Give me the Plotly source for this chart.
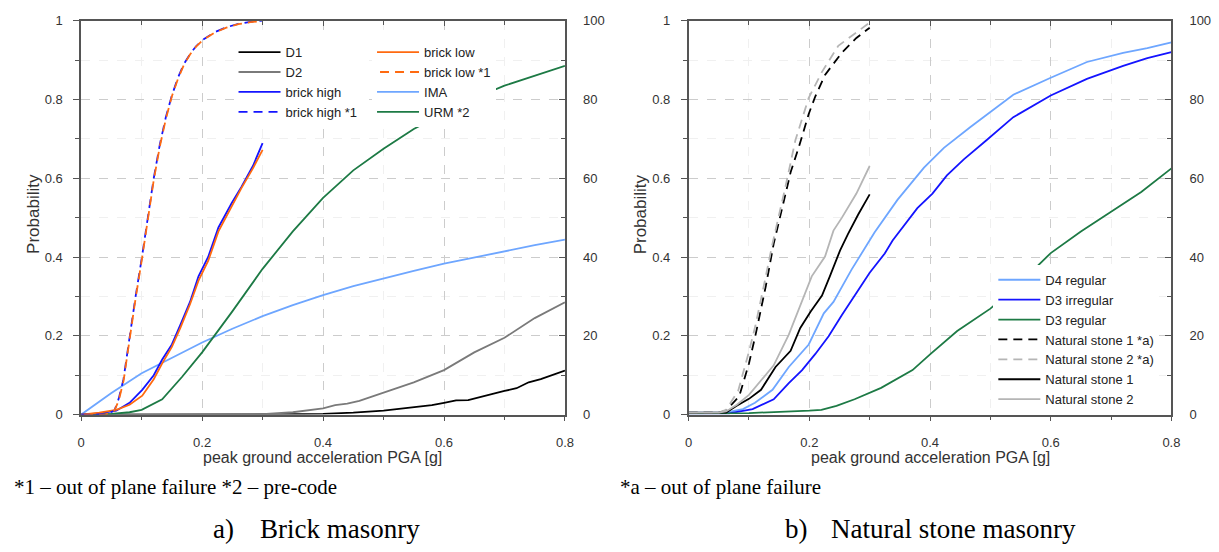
import plotly.graph_objects as go

# ---------------- data: left panel (brick masonry) ----------------
d1_x = [0, 0.1, 0.2, 0.3, 0.35, 0.4, 0.45, 0.5, 0.55, 0.58, 0.6, 0.62, 0.64, 0.66, 0.68, 0.7, 0.72, 0.74, 0.76, 0.78, 0.8]
d1_y = [0, 0, 0, 0, 0.001, 0.002, 0.005, 0.01, 0.018, 0.024, 0.03, 0.036, 0.037, 0.045, 0.052, 0.06, 0.067, 0.082, 0.09, 0.1, 0.112]

d2_x = [0, 0.2, 0.3, 0.35, 0.4, 0.42, 0.44, 0.46, 0.5, 0.55, 0.6, 0.65, 0.7, 0.75, 0.8]
d2_y = [0, 0, 0.001, 0.006, 0.016, 0.024, 0.028, 0.035, 0.055, 0.082, 0.113, 0.158, 0.195, 0.245, 0.285]

bh_x = [0, 0.03, 0.058, 0.08, 0.101, 0.12, 0.134, 0.15, 0.164, 0.18, 0.194, 0.21, 0.227, 0.249, 0.265, 0.284, 0.30]
bh_y = [0, 0.003, 0.01, 0.03, 0.063, 0.1, 0.14, 0.178, 0.228, 0.286, 0.351, 0.40, 0.475, 0.537, 0.578, 0.631, 0.689]

bl_x = [0, 0.03, 0.058, 0.08, 0.101, 0.12, 0.134, 0.15, 0.164, 0.18, 0.194, 0.21, 0.227, 0.249, 0.265, 0.284, 0.30]
bl_y = [0, 0.005, 0.012, 0.025, 0.048, 0.09, 0.13, 0.172, 0.22, 0.28, 0.34, 0.39, 0.465, 0.53, 0.575, 0.625, 0.672]

bh1_x = [0, 0.04, 0.055, 0.062, 0.07, 0.08, 0.09, 0.1, 0.11, 0.12, 0.13, 0.14, 0.15, 0.16, 0.17, 0.18, 0.19, 0.2, 0.22, 0.24, 0.26, 0.28, 0.3]
bh1_y = [0, 0, 0.01, 0.04, 0.09, 0.2, 0.3, 0.395, 0.5, 0.6, 0.685, 0.755, 0.81, 0.855, 0.89, 0.915, 0.935, 0.95, 0.97, 0.983, 0.992, 0.997, 1.0]

bl1_x = [0, 0.04, 0.055, 0.062, 0.07, 0.08, 0.09, 0.1, 0.11, 0.12, 0.13, 0.14, 0.15, 0.16, 0.17, 0.18, 0.19, 0.2, 0.22, 0.24, 0.26, 0.28, 0.3]
bl1_y = [0, 0, 0.01, 0.035, 0.085, 0.195, 0.295, 0.39, 0.495, 0.595, 0.68, 0.75, 0.808, 0.852, 0.888, 0.914, 0.934, 0.949, 0.969, 0.982, 0.991, 0.996, 0.999]

ima_x = [0, 0.05, 0.1, 0.15, 0.2, 0.25, 0.3, 0.35, 0.4, 0.45, 0.5, 0.55, 0.6, 0.65, 0.7, 0.75, 0.8]
ima_y = [0, 0.055, 0.105, 0.145, 0.183, 0.218, 0.25, 0.278, 0.303, 0.326, 0.346, 0.365, 0.383, 0.399, 0.414, 0.43, 0.444]

urm_x = [0, 0.05, 0.08, 0.1, 0.134, 0.167, 0.2, 0.25, 0.3, 0.35, 0.4, 0.45, 0.5, 0.55, 0.6, 0.65, 0.7, 0.75, 0.8]
urm_y = [0, 0.002, 0.006, 0.012, 0.039, 0.096, 0.158, 0.262, 0.37, 0.465, 0.55, 0.62, 0.675, 0.725, 0.765, 0.803, 0.835, 0.86, 0.885]

# ---------------- data: right panel (natural stone masonry) ----------------
d4r_x = [0, 0.06, 0.09, 0.11, 0.139, 0.166, 0.199, 0.224, 0.24, 0.27, 0.308, 0.346, 0.39, 0.423, 0.467, 0.505, 0.538, 0.6, 0.66, 0.72, 0.76, 0.8]
d4r_y = [0.005, 0.005, 0.014, 0.03, 0.063, 0.121, 0.178, 0.257, 0.286, 0.368, 0.462, 0.545, 0.627, 0.677, 0.73, 0.775, 0.812, 0.855, 0.895, 0.918, 0.93, 0.945]

d3i_x = [0, 0.067, 0.106, 0.141, 0.166, 0.188, 0.21, 0.232, 0.254, 0.275, 0.30, 0.325, 0.338, 0.379, 0.404, 0.428, 0.456, 0.494, 0.538, 0.6, 0.66, 0.72, 0.76, 0.8]
d3i_y = [0.003, 0.003, 0.014, 0.039, 0.08, 0.113, 0.154, 0.199, 0.253, 0.302, 0.36, 0.409, 0.442, 0.524, 0.561, 0.607, 0.648, 0.697, 0.755, 0.81, 0.852, 0.885, 0.905, 0.92]

d3r_x = [0, 0.1, 0.2, 0.22, 0.245, 0.275, 0.319, 0.371, 0.401, 0.445, 0.5, 0.55, 0.6, 0.65, 0.7, 0.75, 0.8]
d3r_y = [0.003, 0.004, 0.01, 0.012, 0.022, 0.039, 0.068, 0.113, 0.154, 0.212, 0.269, 0.335, 0.41, 0.465, 0.515, 0.565, 0.625]

ns1a_x = [0, 0.05, 0.062, 0.084, 0.1, 0.111, 0.128, 0.141, 0.155, 0.169, 0.183, 0.199, 0.21, 0.226, 0.254, 0.278, 0.3]
ns1a_y = [0.005, 0.005, 0.01, 0.047, 0.13, 0.203, 0.327, 0.434, 0.524, 0.615, 0.681, 0.763, 0.808, 0.862, 0.919, 0.956, 0.982]

ns2a_x = [0, 0.05, 0.062, 0.082, 0.1, 0.111, 0.125, 0.139, 0.161, 0.177, 0.199, 0.221, 0.248, 0.281, 0.30]
ns2a_y = [0.005, 0.005, 0.012, 0.06, 0.16, 0.228, 0.33, 0.434, 0.582, 0.697, 0.804, 0.87, 0.936, 0.973, 0.995]

ns1_x = [0, 0.05, 0.062, 0.079, 0.1, 0.12, 0.144, 0.169, 0.185, 0.202, 0.221, 0.234, 0.251, 0.264, 0.281, 0.30]
ns1_y = [0.005, 0.005, 0.005, 0.022, 0.04, 0.063, 0.121, 0.162, 0.22, 0.261, 0.302, 0.351, 0.417, 0.458, 0.508, 0.559]

ns2_x = [0, 0.05, 0.062, 0.08, 0.1, 0.114, 0.141, 0.166, 0.188, 0.204, 0.226, 0.24, 0.254, 0.278, 0.30]
ns2_y = [0.005, 0.005, 0.008, 0.025, 0.05, 0.076, 0.125, 0.203, 0.286, 0.351, 0.401, 0.467, 0.5, 0.561, 0.631]

x_ticks = [0, 0.2, 0.4, 0.6, 0.8]
x_tick_text = ["0", "0.2", "0.4", "0.6", "0.8"]
y_ticks = [0, 0.2, 0.4, 0.6, 0.8, 1]
y_tick_text = ["0", "0.2", "0.4", "0.6", "0.8", "1"]
y2_ticks = [0, 20, 40, 60, 80, 100]
y2_tick_text = ["0", "20", "40", "60", "80", "100"]

# ---------------- styling ----------------
W, H = 1219, 552
BLACK = "#000000"
GRAY_D2 = "#7a7a7a"
BLUE = "#1414ff"
ORANGE = "#ff6a10"
LBLUE = "#6ea6ff"
GREEN = "#1d7a45"
LGRAY = "#b5b5b5"
LW = 1.8
SANS = "Liberation Sans, Arial, sans-serif"
SERIF = "Liberation Serif, Times New Roman, serif"

def px_x(p):
    return p / W

def px_y(p):
    return 1 - p / H

fig = go.Figure()

def add(x, y, name, color, xa, ya, legend, rank, dash="solid"):
    fig.add_trace(go.Scatter(x=x, y=y, name=name, mode="lines",
                             line=dict(color=color, width=LW, dash=dash),
                             xaxis=xa, yaxis=ya, legend=legend, legendrank=rank))

# left panel
add(d1_x, d1_y, "D1", BLACK, "x", "y", "legend", 1)
add(d2_x, d2_y, "D2", GRAY_D2, "x", "y", "legend", 2)
add(ima_x, ima_y, "IMA", LBLUE, "x", "y", "legend2", 7)
add(urm_x, urm_y, "URM *2", GREEN, "x", "y", "legend2", 8)
add(bh_x, bh_y, "brick high", BLUE, "x", "y", "legend", 3)
add(bl_x, bl_y, "brick low", ORANGE, "x", "y", "legend2", 5)
add(bh1_x, bh1_y, "brick high *1", BLUE, "x", "y", "legend", 4, dash="9px,6px")
add(bl1_x, bl1_y, "brick low *1", ORANGE, "x", "y", "legend2", 6, dash="0px,3px,9px,3px")

# right panel
add(d4r_x, d4r_y, "D4 regular", LBLUE, "x2", "y3", "legend3", 1)
add(d3i_x, d3i_y, "D3 irregular", BLUE, "x2", "y3", "legend3", 2)
add(d3r_x, d3r_y, "D3 regular", GREEN, "x2", "y3", "legend3", 3)
add(ns1a_x, ns1a_y, "Natural stone 1 *a)", BLACK, "x2", "y3", "legend3", 4, dash="9px,6px")
add(ns2a_x, ns2a_y, "Natural stone 2 *a)", LGRAY, "x2", "y3", "legend3", 5, dash="9px,6px")
add(ns1_x, ns1_y, "Natural stone 1", BLACK, "x2", "y3", "legend3", 6)
add(ns2_x, ns2_y, "Natural stone 2", LGRAY, "x2", "y3", "legend3", 7)

# empty carriers so that the secondary (percent) and top tick axes are drawn
for xa, ya in [("x", "y2"), ("x2", "y4"), ("x3", "y"), ("x4", "y3")]:
    fig.add_trace(go.Scatter(x=[None], y=[None], mode="lines", xaxis=xa, yaxis=ya,
                             showlegend=False, hoverinfo="skip"))

tickfont = dict(family=SANS, size=13, color="#333333")
AXC = "#555555"
ydom = [px_y(419), px_y(14)]

def xaxis_cfg(domain, anchor):
    return dict(domain=domain, anchor=anchor, range=[0, 0.8],
                tickvals=x_ticks, ticktext=x_tick_text,
                ticks="outside", ticklen=5, tickcolor=AXC, tickwidth=1,
                ticklabelstandoff=10,
                showline=True, linecolor=AXC, linewidth=1.5, mirror=True,
                showgrid=True, gridcolor="#cccccc", griddash="dash", gridwidth=1,
                minor=dict(dtick=0.1, tick0=0, showgrid=True, gridcolor="#f0f0f0",
                           ticks="outside", ticklen=4, tickcolor=AXC),
                zeroline=False, tickfont=tickfont, fixedrange=True)

def xtop_cfg(over, anchor):
    return dict(overlaying=over, anchor=anchor, side="top", range=[0, 0.8],
                tickvals=x_ticks, ticks="inside", ticklen=5, tickcolor=AXC,
                showticklabels=False,
                minor=dict(dtick=0.1, tick0=0, ticks="inside", ticklen=4, tickcolor=AXC),
                showline=False, showgrid=False, zeroline=False, fixedrange=True)

def yaxis_cfg(anchor):
    return dict(domain=ydom, anchor=anchor, range=[0, 1],
                tickvals=y_ticks, ticktext=y_tick_text,
                ticks="outside", ticklen=6, tickcolor=AXC,
                ticklabelstandoff=8,
                showline=True, linecolor=AXC, linewidth=1.5, mirror=True,
                showgrid=True, gridcolor="#cccccc", griddash="dash",
                minor=dict(dtick=0.1, tick0=0, showgrid=True, gridcolor="#f0f0f0",
                           ticks="outside", ticklen=4, tickcolor=AXC),
                zeroline=False, tickfont=tickfont, fixedrange=True)

def y2_cfg(over, anchor):
    return dict(overlaying=over, anchor=anchor, side="right", range=[0, 100],
                tickvals=y2_ticks, ticktext=y2_tick_text,
                ticks="inside", ticklen=6, tickcolor=AXC,
                ticklabelstandoff=17,
                minor=dict(dtick=10, tick0=0, ticks="inside", ticklen=4, tickcolor=AXC),
                showline=False, showgrid=False, zeroline=False,
                tickfont=tickfont, fixedrange=True)

legend_common = dict(bgcolor="white", borderwidth=0, xanchor="left", yanchor="top",
                     font=dict(family=SANS, size=13, color="#222222"),
                     tracegroupgap=0, itemclick=False, itemwidth=42)

fig.update_layout(
    width=W, height=H, margin=dict(l=0, r=0, t=0, b=0),
    paper_bgcolor="white", plot_bgcolor="white",
    showlegend=True,
    xaxis=xaxis_cfg([px_x(78), px_x(567)], "y"),
    yaxis=yaxis_cfg("x"),
    yaxis2=y2_cfg("y", "x"),
    xaxis3=xtop_cfg("x", "y"),
    xaxis2=xaxis_cfg([px_x(692), px_x(1180)], "y3"),
    yaxis3=yaxis_cfg("x2"),
    yaxis4=y2_cfg("y3", "x2"),
    xaxis4=xtop_cfg("x2", "y3"),
    legend=dict(x=px_x(232), y=px_y(31), **legend_common),
    legend2=dict(x=px_x(372), y=px_y(31), **legend_common),
    legend3=dict(x=px_x(1000), y=px_y(265), **legend_common),
)

ann_font = dict(family=SANS, size=16, color="#333333")
serif_small = dict(family=SERIF, size=21, color="#000000")
serif_big = dict(family=SERIF, size=27, color="#000000")
annotations = [
    dict(text="peak ground acceleration PGA [g]", x=px_x(322), y=px_y(463), font=ann_font),
    dict(text="peak ground acceleration PGA [g]", x=px_x(936), y=px_y(463), font=ann_font),
    dict(text="Probability", x=px_x(30), y=px_y(213), textangle=-90,
         font=dict(family=SANS, size=17, color="#333333")),
    dict(text="Probability", x=px_x(643), y=px_y(213), textangle=-90,
         font=dict(family=SANS, size=17, color="#333333")),
    dict(text="*1 – out of plane failure *2 – pre-code", x=px_x(8), y=px_y(493), xanchor="left",
         font=serif_small),
    dict(text="*a – out of plane failure", x=px_x(621), y=px_y(493), xanchor="left",
         font=serif_small),
    dict(text="a)", x=px_x(209), y=px_y(537), xanchor="left", font=serif_big),
    dict(text="Brick masonry", x=px_x(257), y=px_y(537), xanchor="left", font=serif_big),
    dict(text="b)", x=px_x(787), y=px_y(537), xanchor="left", font=serif_big),
    dict(text="Natural stone masonry", x=px_x(834), y=px_y(537), xanchor="left", font=serif_big),
]
for a in annotations:
    a.update(xref="paper", yref="paper", showarrow=False)
    a.setdefault("xanchor", "center")
    a["yanchor"] = "middle"
fig.update_layout(annotations=annotations)

fig.write_html("out.html")
